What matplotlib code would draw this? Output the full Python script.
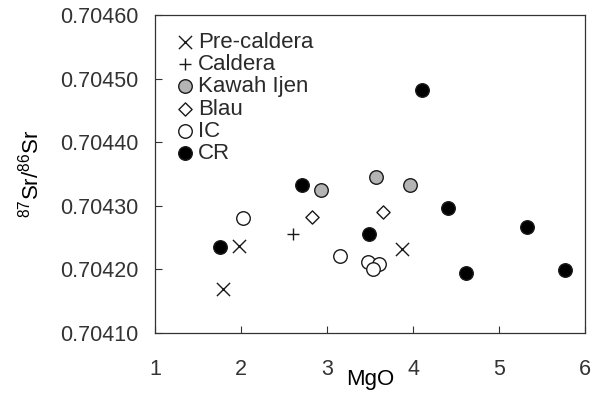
import matplotlib
matplotlib.use('Agg')
import matplotlib.pyplot as plt

plt.rcParams['font.family'] = ['Liberation Sans', 'DejaVu Sans']
plt.rcParams['mathtext.fontset'] = 'custom'
plt.rcParams['mathtext.rm'] = 'Liberation Sans'
plt.rcParams['text.color'] = '#2a2a2a'

# MgO vs 87Sr/86Sr by group
pre_x = [1.79, 1.98, 3.87]
pre_y = [0.704169, 0.704237, 0.704232]

cal_x = [2.61]
cal_y = [0.704255]

kawah_x = [2.93, 3.57, 3.96]
kawah_y = [0.704325, 0.704346, 0.704332]

blau_x = [2.83, 3.65]
blau_y = [0.704283, 0.704291]

ic_x = [2.02, 3.15, 3.48, 3.61, 3.54]
ic_y = [0.704281, 0.704221, 0.704211, 0.704208, 0.704201]

cr_x = [1.76, 2.71, 4.10, 3.49, 4.41, 5.33, 4.62, 5.77]
cr_y = [0.704236, 0.704333, 0.704482, 0.704256, 0.704296, 0.704267, 0.704195, 0.704199]

x_ticks = [1, 2, 3, 4, 5, 6]
y_ticks = [0.7041, 0.7042, 0.7043, 0.7044, 0.7045, 0.7046]

fig = plt.figure(figsize=(5.94, 3.93), dpi=100)
ax = fig.add_axes([155 / 594, 1 - 333 / 393, 430 / 594, 318 / 393])

edge = '#1a1a1a'
ax.scatter(pre_x, pre_y, marker='x', s=90, c=edge, linewidths=1.0, label='Pre-caldera', zorder=3)
ax.scatter(cal_x, cal_y, marker='+', s=70, c=edge, linewidths=1.0, label='Caldera', zorder=3)
ax.scatter(kawah_x, kawah_y, marker='o', s=95, facecolors='#b4b4b4', edgecolors=edge, linewidths=1.0,
           label='Kawah Ijen', zorder=3)
ax.scatter(blau_x, blau_y, marker='D', s=45, facecolors='white', edgecolors=edge, linewidths=1.0,
           label='Blau', zorder=3)
ax.scatter(ic_x, ic_y, marker='o', s=95, facecolors='white', edgecolors=edge, linewidths=1.0,
           label='IC', zorder=3)
ax.scatter(cr_x, cr_y, marker='o', s=95, facecolors='black', edgecolors=edge, linewidths=1.0,
           label='CR', zorder=3)

ax.set_xlim(1, 6)
ax.set_ylim(0.7041, 0.7046)
ax.set_xticks(x_ticks)
ax.set_yticks(y_ticks)
ax.set_yticklabels([f'{v:.5f}' for v in y_ticks])
ax.tick_params(axis='both', direction='in', length=5, width=0.8, colors='#333333', labelsize=15.5)
ax.tick_params(axis='x', pad=19)
ax.tick_params(axis='y', pad=12)
for sp in ax.spines.values():
    sp.set_color('#333333')
    sp.set_linewidth(0.9)

ax.set_xlabel('MgO', fontsize=16, labelpad=-8)
ax.set_ylabel(r'$^{87}$Sr/$^{86}$Sr', fontsize=16, labelpad=12)

ax.legend(loc='upper left', frameon=False, fontsize=16, handletextpad=0.0, labelspacing=0.06,
          borderaxespad=0.35, borderpad=0.4, handlelength=1.2, scatterpoints=1)

fig.savefig('out.png', dpi=100)
